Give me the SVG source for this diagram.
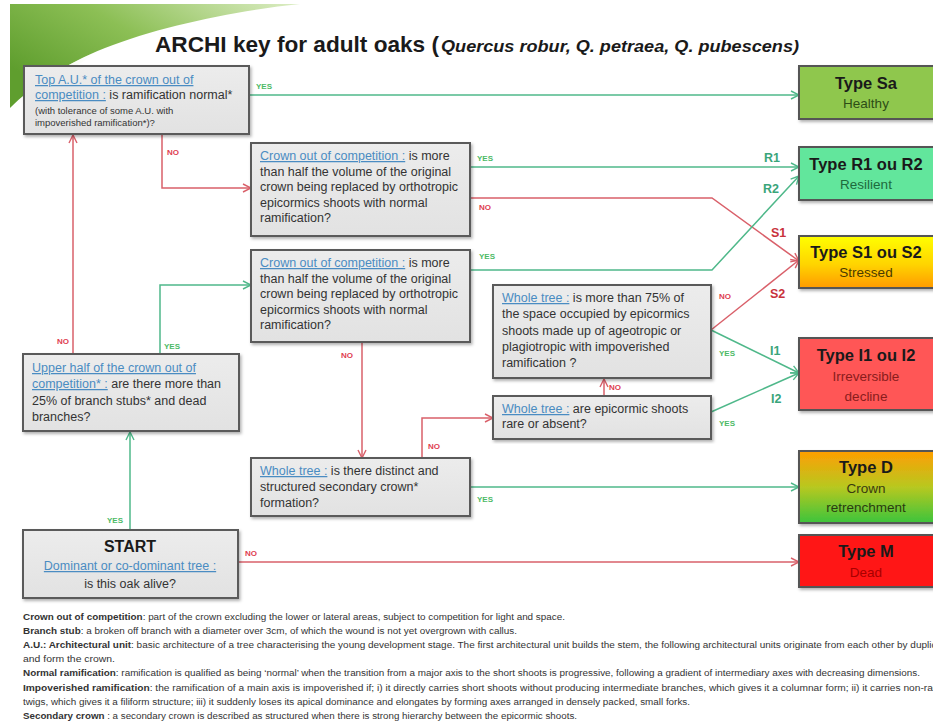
<svg xmlns="http://www.w3.org/2000/svg" width="933" height="724" viewBox="0 0 933 724">
  <defs>
    <linearGradient id="swoosh" x1="0" y1="0.6" x2="1" y2="0">
      <stop offset="0" stop-color="#5f9e2e"/>
      <stop offset="0.45" stop-color="#8cbf55"/>
      <stop offset="1" stop-color="#dcedc4"/>
    </linearGradient>
    <linearGradient id="swooshLight" x1="0" y1="1" x2="1" y2="0">
      <stop offset="0" stop-color="#ffffff" stop-opacity="0"/>
      <stop offset="0.5" stop-color="#eef6e2" stop-opacity="0.9"/>
      <stop offset="1" stop-color="#ffffff" stop-opacity="0"/>
    </linearGradient>
    <linearGradient id="gradS" x1="0" y1="0" x2="0" y2="1">
      <stop offset="0" stop-color="#ffff00"/>
      <stop offset="0.55" stop-color="#ffd400"/>
      <stop offset="1" stop-color="#ff9a00"/>
    </linearGradient>
    <linearGradient id="gradD" x1="0" y1="0" x2="0" y2="1">
      <stop offset="0" stop-color="#ff9e00"/>
      <stop offset="0.5" stop-color="#b8c820"/>
      <stop offset="1" stop-color="#3cc43c"/>
    </linearGradient>
    <linearGradient id="boxFill" x1="0" y1="0" x2="0" y2="1">
      <stop offset="0" stop-color="#ececec"/>
      <stop offset="1" stop-color="#e2e2e2"/>
    </linearGradient>
    <filter id="shadow" x="-5%" y="-5%" width="112%" height="115%">
      <feDropShadow dx="1.5" dy="2" stdDeviation="1.5" flood-color="#000" flood-opacity="0.3"/>
    </filter>
    <marker id="arrG" viewBox="0 0 10 10" refX="9" refY="5" markerWidth="10" markerHeight="10" markerUnits="userSpaceOnUse" orient="auto">
      <path d="M1,1 L9,5 L1,9" fill="none" stroke="#4fb88a" stroke-width="1.4"/>
    </marker>
    <marker id="arrR" viewBox="0 0 10 10" refX="9" refY="5" markerWidth="10" markerHeight="10" markerUnits="userSpaceOnUse" orient="auto">
      <path d="M1,1 L9,5 L1,9" fill="none" stroke="#d9606a" stroke-width="1.4"/>
    </marker>
    <style>
      text { font-family: "Liberation Sans", Arial, sans-serif; }
      .q { fill: url(#boxFill); stroke: #5a5a5a; stroke-width: 2; filter: url(#shadow); }
      .t { font-size: 12.5px; fill: #333333; }
      .sm { font-size: 9.5px; fill: #333333; }
      .lnk { fill: #4a8cc2; text-decoration: underline; }
      .ty { stroke: #555555; stroke-width: 2; filter: url(#shadow); }
      .tyh { font-size: 16.5px; font-weight: bold; fill: #1a1a1a; text-anchor: middle; }
      .tys { font-size: 13.5px; text-anchor: middle; }
      .g { fill: none; stroke: #4fb88a; stroke-width: 1.5; marker-end: url(#arrG); }
      .r { fill: none; stroke: #d9606a; stroke-width: 1.5; marker-end: url(#arrR); }
      .yes { font-size: 8px; font-weight: bold; fill: #4cba66; }
      .no { font-size: 8px; font-weight: bold; fill: #e04050; }
      .cg { font-size: 12.5px; font-weight: bold; fill: #3aa57a; }
      .cr { font-size: 12.5px; font-weight: bold; fill: #c8323c; }
      .fn { font-size: 8.5px; fill: #333333; }
      .fn tspan.b { font-weight: bold; }
    </style>
  </defs>

  <rect width="933" height="724" fill="#ffffff"/>

  <!-- corner swoosh -->
  <path d="M10,4 L300,4 C240,10 160,26 105,48 C65,64 32,86 10,108 Z" fill="url(#swoosh)"/>
  <path d="M10,108 C32,86 65,64 105,48 C75,66 45,86 10,112 Z" fill="url(#swooshLight)"/>

  <!-- title -->
  <text x="155" y="52" font-size="22" font-weight="bold" fill="#1a1a1a" textLength="284" lengthAdjust="spacingAndGlyphs">ARCHI key for adult oaks (</text>
  <text x="441" y="52" font-size="16.5" font-weight="bold" font-style="italic" fill="#1a1a1a" textLength="358" lengthAdjust="spacingAndGlyphs">Quercus robur, Q. petraea, Q. pubescens)</text>

  <!-- connectors -->
  <g id="connectors">
    <path class="g" d="M249,95 H799"/>
    <path class="r" d="M162,134 V188 H251"/>
    <path class="r" d="M73,354 V135"/>
    <path class="g" d="M160,354 V285 H251"/>
    <path class="g" d="M130,530 V432"/>
    <path class="r" d="M238,562 H799"/>
    <path class="g" d="M470,167 H799"/>
    <path class="r" d="M470,198 H712 L799,261"/>
    <path class="g" d="M470,270 H712 L799,176"/>
    <path class="r" d="M362,342 V458"/>
    <path class="r" d="M422,458 V418 H493"/>
    <path class="g" d="M470,487 H799"/>
    <path class="r" d="M604,396 V379"/>
    <path class="r" d="M711,330 L799,260"/>
    <path class="g" d="M711,330 L799,373"/>
    <path class="g" d="M711,412 L799,373"/>

    <text class="yes" x="256" y="89">YES</text>
    <text class="no" x="167" y="155">NO</text>
    <text class="no" x="57" y="344">NO</text>
    <text class="yes" x="164" y="349">YES</text>
    <text class="yes" x="107" y="523">YES</text>
    <text class="no" x="245" y="556">NO</text>
    <text class="yes" x="477" y="161">YES</text>
    <text class="no" x="479" y="210">NO</text>
    <text class="yes" x="479" y="259">YES</text>
    <text class="no" x="341" y="358">NO</text>
    <text class="no" x="428" y="449">NO</text>
    <text class="yes" x="477" y="502">YES</text>
    <text class="no" x="609" y="390">NO</text>
    <text class="no" x="719" y="299">NO</text>
    <text class="yes" x="719" y="356">YES</text>
    <text class="yes" x="719" y="426">YES</text>

    <text class="cg" x="764" y="162">R1</text>
    <text class="cg" x="763" y="193">R2</text>
    <text class="cr" x="771" y="237">S1</text>
    <text class="cr" x="770" y="298">S2</text>
    <text class="cg" x="770" y="355">I1</text>
    <text class="cg" x="771" y="403">I2</text>
  </g>

  <!-- question boxes -->
  <g id="q-top-au">
    <rect class="q" x="24" y="66" width="225" height="68"/>
    <text class="t" x="35" y="84"><tspan class="lnk">Top A.U.*  of the crown out of</tspan></text>
    <text class="t" x="35" y="99"><tspan class="lnk">competition :</tspan> is ramification normal*</text>
    <text class="sm" x="35" y="114">(with tolerance of some A.U. with</text>
    <text class="sm" x="35" y="126">impoverished ramification*)?</text>
  </g>

  <g id="q-crown-1">
    <rect class="q" x="251" y="143" width="219" height="93"/>
    <text class="t" x="260" y="160"><tspan class="lnk">Crown out of competition :</tspan> is more</text>
    <text class="t" x="260" y="175.5">than half the volume of the original</text>
    <text class="t" x="260" y="191">crown being replaced by orthotropic</text>
    <text class="t" x="260" y="206.5">epicormics shoots with normal</text>
    <text class="t" x="260" y="222">ramification?</text>
  </g>

  <g id="q-crown-2">
    <rect class="q" x="251" y="250" width="219" height="92"/>
    <text class="t" x="260" y="267"><tspan class="lnk">Crown out of competition :</tspan> is more</text>
    <text class="t" x="260" y="282.5">than half the volume of the original</text>
    <text class="t" x="260" y="298">crown being replaced by orthotropic</text>
    <text class="t" x="260" y="313.5">epicormics shoots with normal</text>
    <text class="t" x="260" y="329">ramification?</text>
  </g>

  <g id="q-whole-75">
    <rect class="q" x="493" y="285" width="218" height="93"/>
    <text class="t" x="502" y="302"><tspan class="lnk">Whole tree :</tspan> is more than 75% of</text>
    <text class="t" x="502" y="318">the space occupied by epicormics</text>
    <text class="t" x="502" y="334.5">shoots made up of ageotropic or</text>
    <text class="t" x="502" y="351">plagiotropic with impoverished</text>
    <text class="t" x="502" y="367">ramification ?</text>
  </g>

  <g id="q-whole-rare">
    <rect class="q" x="493" y="396" width="218" height="43"/>
    <text class="t" x="502" y="413"><tspan class="lnk">Whole tree :</tspan> are epicormic shoots</text>
    <text class="t" x="502" y="428">rare or absent?</text>
  </g>

  <g id="q-upper-half">
    <rect class="q" x="23" y="354" width="216" height="77"/>
    <text class="t" x="32" y="372"><tspan class="lnk">Upper half of the crown out of</tspan></text>
    <text class="t" x="32" y="388"><tspan class="lnk">competition* :</tspan> are there more than</text>
    <text class="t" x="32" y="404.5">25% of branch stubs* and dead</text>
    <text class="t" x="32" y="421">branches?</text>
  </g>

  <g id="q-secondary">
    <rect class="q" x="251" y="458" width="219" height="58"/>
    <text class="t" x="260" y="475"><tspan class="lnk">Whole tree :</tspan> is there distinct and</text>
    <text class="t" x="260" y="491">structured secondary crown*</text>
    <text class="t" x="260" y="507">formation?</text>
  </g>

  <g id="q-start">
    <rect class="q" x="23" y="530" width="215" height="68"/>
    <text x="130" y="552" font-size="16" font-weight="bold" fill="#1a1a1a" text-anchor="middle">START</text>
    <text class="t" x="130" y="570" text-anchor="middle"><tspan class="lnk">Dominant or co-dominant tree :</tspan></text>
    <text class="t" x="130" y="588" text-anchor="middle">is this oak alive?</text>
  </g>

  <!-- outcome boxes -->
  <g id="type-sa">
    <rect class="ty" x="799" y="66" width="140" height="53" fill="#8fc74e"/>
    <text class="tyh" x="866" y="89">Type Sa</text>
    <text class="tys" x="866" y="108" fill="#2d4d15">Healthy</text>
  </g>
  <g id="type-r">
    <rect class="ty" x="799" y="147" width="140" height="53" fill="#62e69c"/>
    <text class="tyh" x="866" y="170">Type R1 ou R2</text>
    <text class="tys" x="866" y="189" fill="#1d6a3c">Resilient</text>
  </g>
  <g id="type-s">
    <rect class="ty" x="799" y="236" width="140" height="52" fill="url(#gradS)"/>
    <text class="tyh" x="866" y="258">Type S1 ou S2</text>
    <text class="tys" x="866" y="277" fill="#4a3a00">Stressed</text>
  </g>
  <g id="type-i">
    <rect class="ty" x="799" y="338" width="140" height="72" fill="#ff5656"/>
    <text class="tyh" x="866" y="361">Type I1 ou I2</text>
    <text class="tys" x="866" y="381" fill="#8a1c1c">Irreversible</text>
    <text class="tys" x="866" y="401" fill="#8a1c1c">decline</text>
  </g>
  <g id="type-d">
    <rect class="ty" x="799" y="451" width="140" height="72" fill="url(#gradD)"/>
    <text class="tyh" x="866" y="473">Type D</text>
    <text class="tys" x="866" y="493" fill="#3a3a10">Crown</text>
    <text class="tys" x="866" y="512" fill="#2a3a10">retrenchment</text>
  </g>
  <g id="type-m">
    <rect class="ty" x="799" y="535" width="140" height="52" fill="#ff1414"/>
    <text class="tyh" x="866" y="557">Type M</text>
    <text class="tys" x="866" y="577" fill="#a80000">Dead</text>
  </g>

  <!-- glossary -->
  <g id="glossary">
    <text class="fn" x="23" y="620" textLength="542" lengthAdjust="spacingAndGlyphs"><tspan class="b">Crown out of competition</tspan>: part of the crown excluding the lower or lateral areas, subject to competition for light and space.</text>
    <text class="fn" x="23" y="634" textLength="494" lengthAdjust="spacingAndGlyphs"><tspan class="b">Branch stub</tspan>: a broken off branch with a diameter over 3cm, of which the wound is not yet overgrown with callus.</text>
    <text class="fn" x="23" y="648" textLength="935" lengthAdjust="spacingAndGlyphs"><tspan class="b">A.U.: Architectural unit</tspan>: basic architecture of a tree characterising the young development stage. The first architectural unit builds the stem, the following architectural units originate from each other by duplication</text>
    <text class="fn" x="23" y="662" textLength="92" lengthAdjust="spacingAndGlyphs">and form the crown.</text>
    <text class="fn" x="23" y="676" textLength="897" lengthAdjust="spacingAndGlyphs"><tspan class="b">Normal ramification</tspan>: ramification is qualified as being ‘normal’ when the transition from a major axis to the short shoots is progressive, following a gradient of intermediary axes with decreasing dimensions.</text>
    <text class="fn" x="23" y="691" textLength="937" lengthAdjust="spacingAndGlyphs"><tspan class="b">Impoverished ramification</tspan>: the ramification of a main axis is impoverished if; i) it directly carries short shoots without producing intermediate branches, which gives it a columnar form; ii)  it carries non-ramified</text>
    <text class="fn" x="23" y="705" textLength="667" lengthAdjust="spacingAndGlyphs">twigs, which gives it a filiform structure; iii) it suddenly loses its apical dominance and elongates by forming axes arranged in densely packed, small forks.</text>
    <text class="fn" x="23" y="719" textLength="554" lengthAdjust="spacingAndGlyphs"><tspan class="b">Secondary crown</tspan> : a secondary crown is described as structured when there is strong hierarchy between the epicormic shoots.</text>
  </g>
</svg>
